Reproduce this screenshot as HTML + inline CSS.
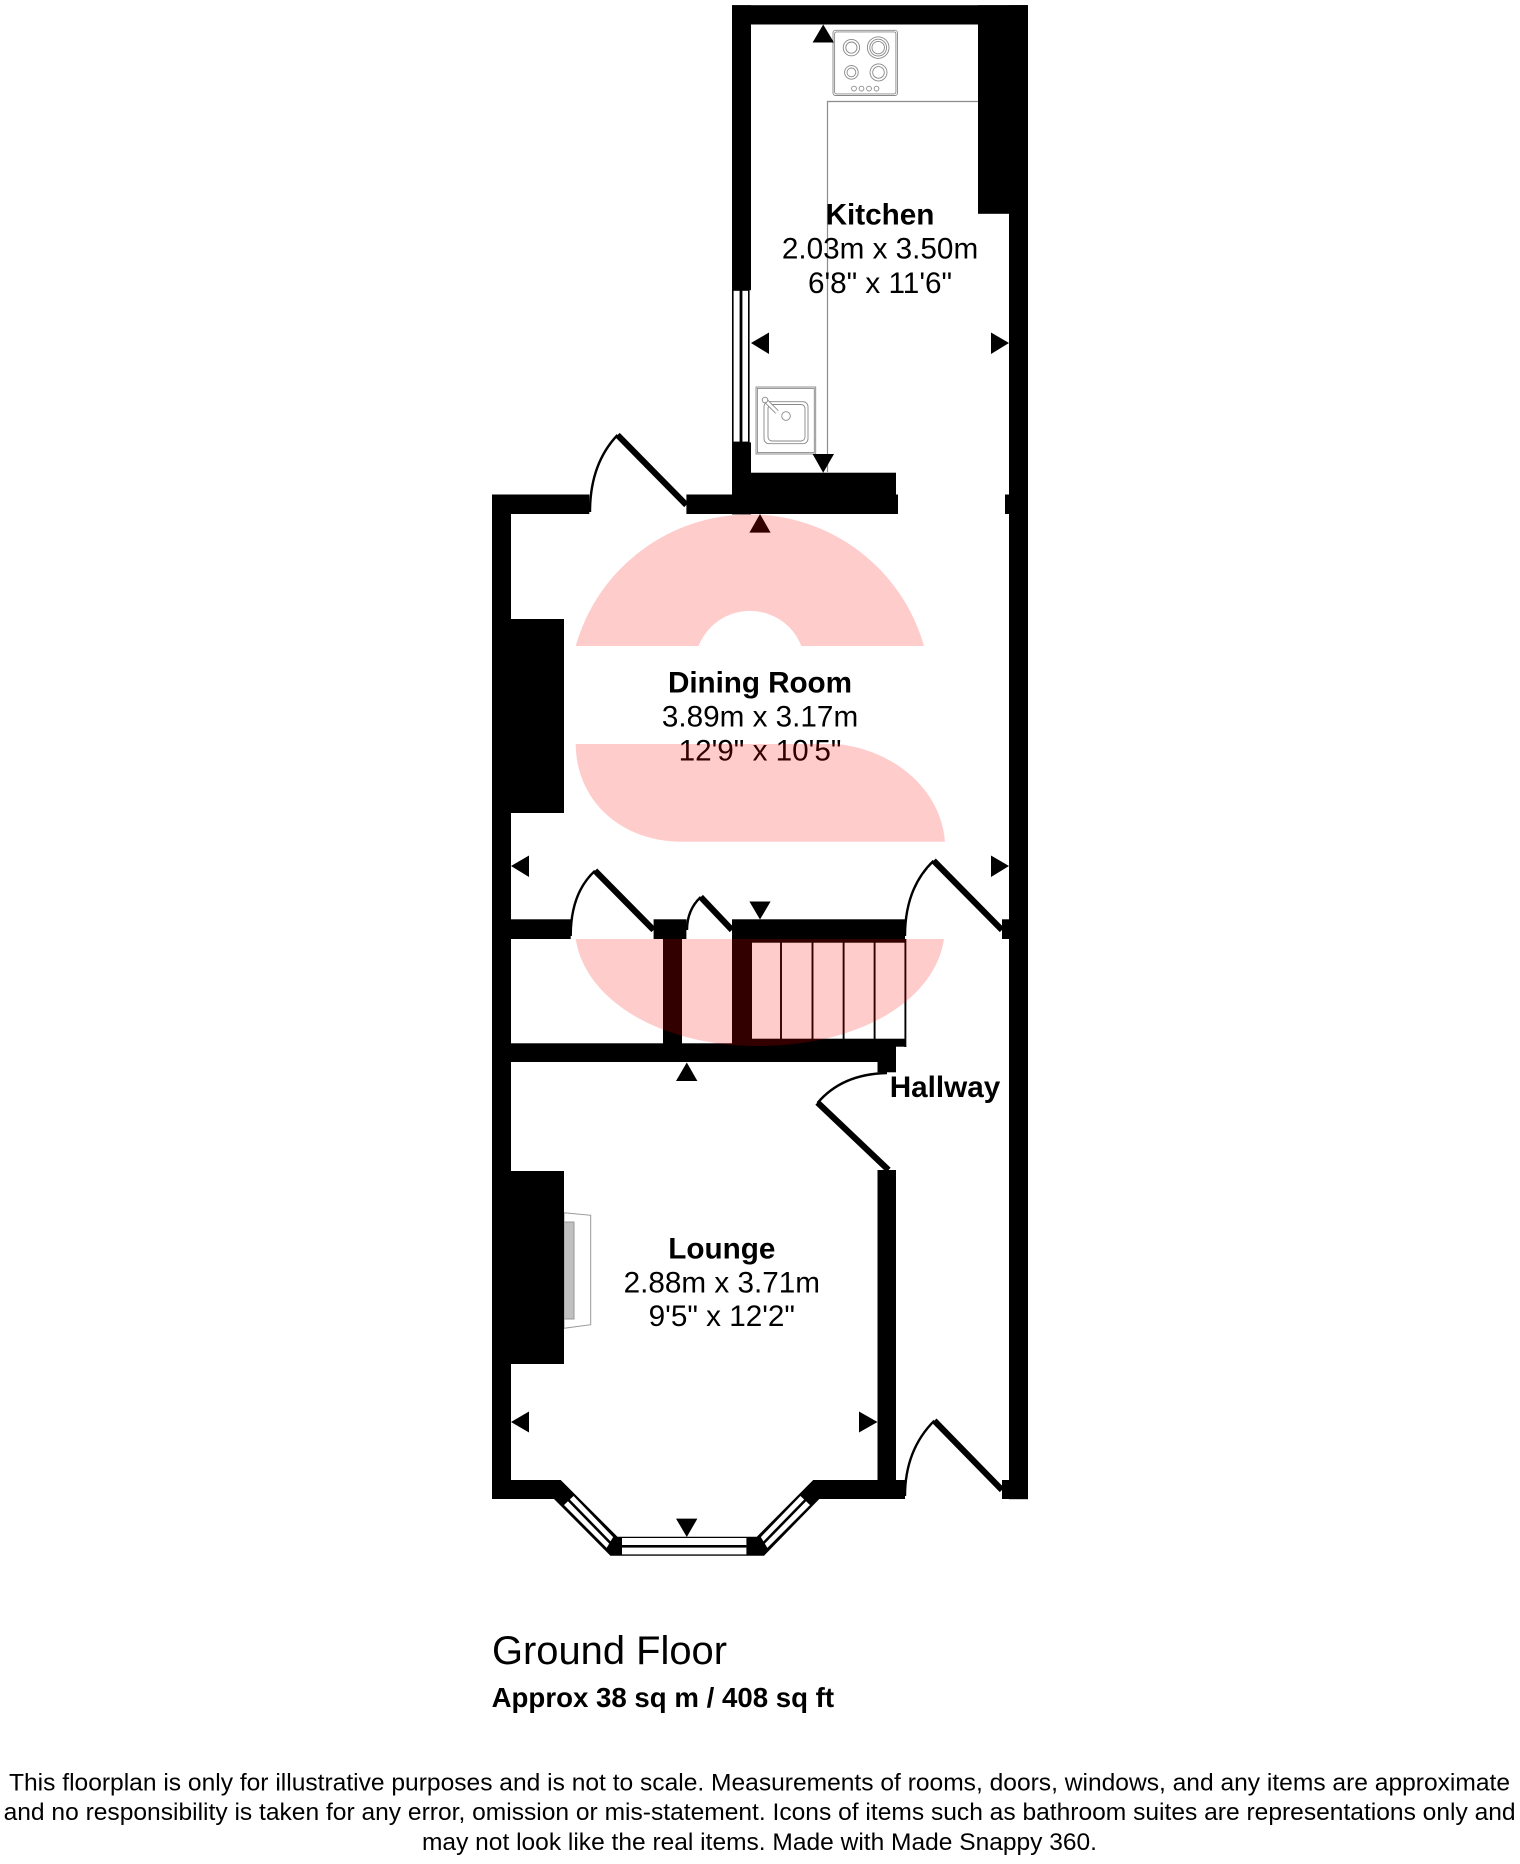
<!DOCTYPE html>
<html>
<head>
<meta charset="utf-8">
<style>
html,body{margin:0;padding:0;background:#fff;}
svg{display:block;}
text{font-family:"Liberation Sans",Arial,sans-serif;fill:#000;}
.t{font-size:29.7px;text-anchor:middle;}
.b{font-size:29.7px;font-weight:bold;text-anchor:middle;}
.f{font-size:24px;}
</style>
</head>
<body>
<svg width="1520" height="1864" viewBox="0 0 1520 1864" xmlns="http://www.w3.org/2000/svg">
<rect width="1520" height="1864" fill="#fff"/>

<!-- counter lines -->
<path d="M978 101.5H827.5V472" fill="none" stroke="#8c8c8c" stroke-width="1.2"/>

<!-- hob -->
<g fill="none" stroke="#888" stroke-width="0.9">
<rect x="833" y="30.3" width="64.5" height="65.2" rx="2.5"/>
<rect x="834.6" y="31.9" width="61.3" height="62" rx="2"/>
<circle cx="851.4" cy="47.6" r="8.2"/><circle cx="851.4" cy="47.6" r="5.6"/>
<circle cx="878.2" cy="47.6" r="10.8"/><circle cx="878.2" cy="47.6" r="8.4"/><circle cx="878.2" cy="47.6" r="6.2"/>
<circle cx="851.4" cy="72.4" r="6.8"/><circle cx="851.4" cy="72.4" r="4.4"/>
<circle cx="878.5" cy="72.4" r="8.5"/><circle cx="878.5" cy="72.4" r="5.8"/>
<circle cx="854" cy="88.6" r="2.4"/><circle cx="861.5" cy="88.6" r="2.4"/><circle cx="869" cy="88.6" r="2.4"/><circle cx="876.5" cy="88.6" r="2.4"/>
</g>

<!-- sink -->
<g fill="none" stroke="#888" stroke-width="0.9">
<rect x="756" y="387" width="59.7" height="67"/>
<rect x="757.4" y="388.4" width="56.9" height="64.2"/>
<rect x="764" y="401.7" width="44" height="42" rx="5"/>
<rect x="768" y="404.5" width="37" height="36.5" rx="4"/>
<circle cx="786" cy="416" r="4.3"/>
<path d="M765 400L777 412" stroke-width="4.5" stroke="#888"/>
<path d="M765 400L777 412" stroke-width="2.8" stroke="#fff"/>
<circle cx="765" cy="400" r="2.8" fill="#fff"/>
</g>

<!-- fireplace -->
<polygon points="564,1212.7 590.7,1215.3 590.7,1324.7 564,1328.3" fill="#fff" stroke="#999" stroke-width="1"/>
<rect x="564" y="1222" width="10" height="97" fill="#c0c0c0" stroke="#999" stroke-width="1"/>

<!-- walls -->
<g fill="#000">
<!-- kitchen -->
<rect x="732" y="5.2" width="296" height="19.3"/>
<rect x="732" y="5.2" width="19" height="285"/>
<rect x="978" y="5.2" width="50" height="208.6"/>
<rect x="1009" y="5.2" width="19" height="1494"/>
<rect x="732" y="442.4" width="19" height="72"/>
<rect x="732" y="472.7" width="164" height="30"/>
<!-- top wall of dining -->
<rect x="492" y="494.5" width="97.3" height="19.5"/>
<rect x="686.4" y="494.5" width="211.6" height="19.5"/>
<rect x="1005" y="494.5" width="6" height="19.5"/>
<!-- left wall -->
<rect x="492" y="494.5" width="19" height="1004.5"/>
<!-- chimneys -->
<rect x="492" y="619" width="72" height="194"/>
<rect x="492" y="1171" width="72" height="193"/>
<!-- middle wall -->
<rect x="511" y="919.3" width="59.7" height="19.7"/>
<rect x="653.6" y="919.3" width="32.8" height="19.7"/>
<rect x="732" y="919.3" width="173" height="19.7"/>
<rect x="1002" y="919.3" width="8" height="19.7"/>
<rect x="663" y="939" width="19" height="105"/>
<rect x="732" y="939" width="20" height="105"/>
<rect x="752" y="939" width="154" height="3.7"/>
<rect x="752" y="1038.7" width="154" height="8"/>
<rect x="511" y="1043.3" width="385" height="18.7"/>
<rect x="877.5" y="1043.3" width="18.5" height="29"/>
<!-- lounge / hall wall -->
<rect x="877.5" y="1170" width="18.5" height="329"/>
<!-- bottom wall + bay -->
<polygon points="492,1480 560.7,1480 617.5,1536.7 756.8,1536.7 813.2,1480 905,1480 905,1499 819.3,1499 764,1555.7 610.4,1555.7 554,1499 492,1499"/>
<rect x="1002" y="1480" width="26" height="19"/>
</g>

<!-- kitchen window -->
<rect x="732.8" y="290" width="16" height="152.4" fill="#fff" stroke="#000" stroke-width="1.6"/>
<rect x="739.6" y="290" width="2.8" height="152.4" fill="#000"/>

<!-- bay windows -->
<rect x="622" y="1538" width="124.4" height="16.4" fill="#fff"/>
<rect x="622" y="1545" width="124.4" height="2.6" fill="#000"/>
<polygon points="573.6,1495 614,1537 606.8,1549 563,1505" fill="#fff" stroke="#000" stroke-width="1.4"/>
<path d="M568.5 1500L610.4 1543" stroke="#000" stroke-width="2.6"/>
<polygon points="800.4,1495 760,1537 767.2,1549 811,1505" fill="#fff" stroke="#000" stroke-width="1.4"/>
<path d="M805.5 1500L763.6 1543" stroke="#000" stroke-width="2.6"/>

<!-- stairs -->
<g fill="none" stroke="#000" stroke-width="1.9">
<path d="M781 942V1039M812.5 942V1039M843.6 942V1039M874.6 942V1039M905.4 939V1047"/>
</g>

<!-- doors -->
<g fill="none" stroke="#000">
<g stroke-width="6.2">
<path d="M686.4 505L617.5 435"/>
<path d="M653.6 930L595 870.7"/>
<path d="M732 930L700.7 897"/>
<path d="M1002 930L933.6 860.7"/>
<path d="M888.5 1170L817.5 1102.5"/>
<path d="M1002 1490L934.3 1420.7"/>
</g>
<g stroke-width="2.4">
<path d="M590 512Q590 464 617.5 435"/>
<path d="M570.7 936Q570.7 893 595 870.7"/>
<path d="M687 930Q687 910 700.7 897"/>
<path d="M905 936Q905 888 933.6 860.7"/>
<path d="M887 1073Q842 1074 817.5 1103"/>
<path d="M905 1496Q905 1450 934.3 1420.7"/>
</g>
</g>

<!-- arrows -->
<g fill="#000">
<polygon points="823.2,24.5 812.6,42.5 834,42.5"/>
<polygon points="751,343 769,332.5 769,354"/>
<polygon points="1009,343 991,332.5 991,354"/>
<polygon points="823.2,472.7 812.6,454 834,454"/>
<polygon points="760,514 749.4,532.6 770.6,532.6"/>
<polygon points="511,866 529,855.5 529,877"/>
<polygon points="1009,866 991,855.5 991,877"/>
<polygon points="760,919.5 749.4,901.5 770.6,901.5"/>
<polygon points="686.8,1062.5 676,1081 697.4,1081"/>
<polygon points="511,1422 529,1411.5 529,1432.5"/>
<polygon points="877.5,1422 859,1411.5 859,1432.5"/>
<polygon points="686.8,1537 676,1518.6 697.4,1518.6"/>
</g>

<!-- labels -->
<text class="b" x="880" y="224.5">Kitchen</text>
<text class="t" x="880" y="258.6">2.03m x 3.50m</text>
<text class="t" x="880" y="293">6'8" x 11'6"</text>
<text class="b" x="760" y="692.7" textLength="184" lengthAdjust="spacing">Dining Room</text>
<text class="t" x="760" y="726.7">3.89m x 3.17m</text>
<text class="t" x="760" y="760.7">12'9" x 10'5"</text>
<text class="b" x="945" y="1097">Hallway</text>
<text class="b" x="721.8" y="1258.5">Lounge</text>
<text class="t" x="721.8" y="1292.7">2.88m x 3.71m</text>
<text class="t" x="721.8" y="1326">9'5" x 12'2"</text>

<text x="492" y="1664" font-size="40" textLength="235" lengthAdjust="spacingAndGlyphs">Ground Floor</text>
<text x="491.6" y="1707" font-size="27.6" font-weight="bold" textLength="342.5" lengthAdjust="spacingAndGlyphs">Approx 38 sq m / 408 sq ft</text>
<text class="f" x="9" y="1790.7" textLength="1501" lengthAdjust="spacingAndGlyphs">This floorplan is only for illustrative purposes and is not to scale. Measurements of rooms, doors, windows, and any items are approximate</text>
<text class="f" x="3.6" y="1820" textLength="1512" lengthAdjust="spacingAndGlyphs">and no responsibility is taken for any error, omission or mis-statement. Icons of items such as bathroom suites are representations only and</text>
<text class="f" x="422" y="1850" textLength="675" lengthAdjust="spacingAndGlyphs">may not look like the real items. Made with Made Snappy 360.</text>

<!-- pink overlays -->
<g fill="#ff0000" fill-opacity="0.2">
<path d="M575.7 646A181 181 0 0 1 924 646H801.4A55.2 55.2 0 0 0 698.6 646Z"/>
<path d="M575.7 744H837C895 750 941 790 945 841.7H682C620 841.7 576 800 575.7 744Z"/>
<path d="M575.7 939H944C935 1000 860 1046 758 1046C660 1046 585 1000 575.7 939Z"/>
</g>
</svg>
</body>
</html>
